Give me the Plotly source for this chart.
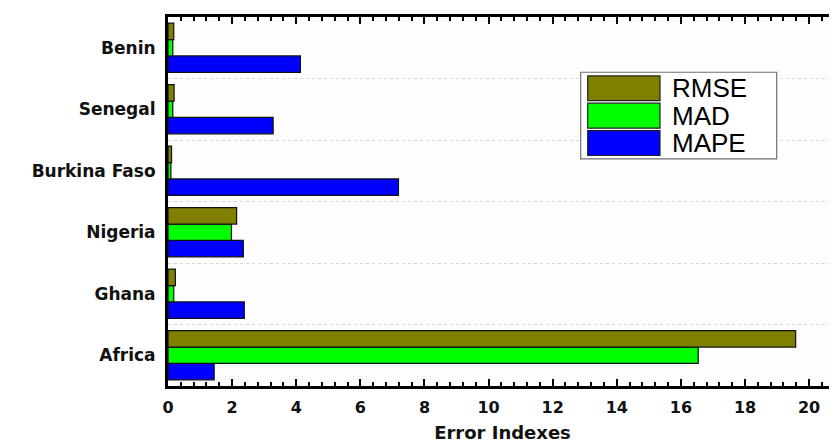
import plotly.graph_objects as go

categories = ["Africa", "Ghana", "Nigeria", "Burkina Faso", "Senegal", "Benin"]
rmse = [19.58, 0.23, 2.14, 0.11, 0.19, 0.18]
mad = [16.54, 0.18, 1.98, 0.09, 0.15, 0.15]
mape = [1.44, 2.38, 2.35, 7.19, 3.28, 4.13]
series_names = ["RMSE", "MAD", "MAPE"]
series_colors = ["#808000", "#00FF00", "#0000FF"]
x_ticks = [0, 2, 4, 6, 8, 10, 12, 14, 16, 18, 20]

# page body has an 8px offset; figure sized to fit the window
OFF = 8
W, H = 829, 435
ML, MR, MT, MB = 160, 0, 9, 56.5
PW = W - ML - MR
PH = H - MT - MB

series_values = {"RMSE": rmse, "MAD": mad, "MAPE": mape}

fig = go.Figure()
# plotly places the first trace at the bottom of each group -> add in reverse
for name, color in reversed(list(zip(series_names, series_colors))):
    fig.add_trace(go.Bar(
        y=categories, x=series_values[name], orientation="h", name=name,
        marker=dict(color=color, line=dict(color="#111111", width=1.2)),
        showlegend=False,
    ))

fig.update_layout(
    width=W, height=H,
    margin=dict(l=ML, r=MR, t=MT, b=MB, autoexpand=False),
    paper_bgcolor="white", plot_bgcolor="#fdfdfd",
    barmode="group", bargap=0.2, bargroupgap=0,
    xaxis=dict(
        range=[0, 20.87], tickvals=x_ticks, ticks="inside", ticklen=7, tickwidth=2,
        tickcolor="black", showline=True, linewidth=3, linecolor="black",
        mirror="allticks", showgrid=False, zeroline=False, automargin=False,
        minor=dict(dtick=0.4, tick0=0, ticks="inside", ticklen=4, tickwidth=2, tickcolor="black"),
        tickfont=dict(family="DejaVu Sans", size=16, color="#111111", weight="bold"),
        ticklabelstandoff=5,
        title=dict(text="Error Indexes", standoff=11,
                   font=dict(family="DejaVu Sans", size=18, color="#111111", weight="bold")),
    ),
    yaxis=dict(
        type="category", categoryorder="array", categoryarray=categories,
        showline=True, linewidth=3, linecolor="black", mirror=False, automargin=False,
        ticks="", tickson="boundaries", showgrid=True, gridcolor="#d6d6d6",
        griddash="dot", gridwidth=1, zeroline=False,
        tickfont=dict(family="DejaVu Sans", size=17, color="#111111", weight="bold"),
        ticklabelstandoff=6,
    ),
)

# custom legend with large swatches (pixel positions of the window -> paper coords)
def px_x(px):
    return (px - OFF - ML) / PW

def px_y(py):
    return (H - MB - (py - OFF)) / PH

fig.add_shape(type="rect", xref="paper", yref="paper",
              x0=px_x(580.7), x1=px_x(776.7), y0=px_y(159), y1=px_y(72.3),
              line=dict(color="#707070", width=1.2), fillcolor="white", layer="above")
rows = [(76, 100.7), (103.3, 128.3), (130.7, 155.7)]
for (name, color), (t, b) in zip(zip(series_names, series_colors), rows):
    fig.add_shape(type="rect", xref="paper", yref="paper",
                  x0=px_x(587.7), x1=px_x(660), y0=px_y(b), y1=px_y(t),
                  line=dict(color="#222222", width=1.2), fillcolor=color, layer="above")
    fig.add_annotation(xref="paper", yref="paper", x=px_x(670), y=px_y((t + b) / 2),
                       xanchor="left", yanchor="middle", text=name, showarrow=False,
                       font=dict(family="Liberation Sans", size=26, color="black"))

fig.write_html("out.html")
